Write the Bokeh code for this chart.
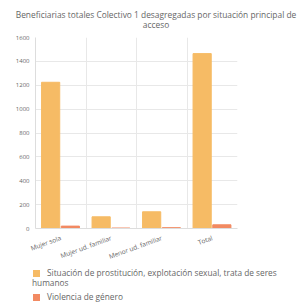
from bokeh.plotting import figure
from bokeh.models import ColumnDataSource, FactorRange, Range1d, FixedTicker, Div
from bokeh.layouts import column
from bokeh.transform import dodge
from bokeh.embed import file_html
from bokeh.resources import INLINE

categories = ["Mujer sola", "Mujer ud. familiar", "Menor ud. familiar", "Total"]
prostitucion = [1225, 98, 140, 1465]
violencia = [20, 4, 7, 31]
series_names = ["Situación de prostitución, explotación sexual, trata de seres humanos",
                "Violencia de género"]
title_lines = ["Beneficiarias totales Colectivo 1 desagregadas por situación principal de",
               "acceso"]
y_ticks = [0, 200, 400, 600, 800, 1000, 1200, 1400, 1600]

C1 = "#f6bb65"
C2 = "#f28a62"
TXT = "#666666"
FONT = "Open Sans"
W = 298

# title
head = Div(text="<br>".join(title_lines), width=W, height=30, margin=0,
           styles={"font-family": FONT, "font-size": "8.4px", "color": TXT,
                   "text-align": "center", "line-height": "10.5px",
                   "padding-top": "9.5px", "padding-left": "14px",
                   "box-sizing": "border-box", "white-space": "nowrap"})

# main chart
src = ColumnDataSource(dict(cat=categories, a=prostitucion, b=violencia))
p = figure(x_range=FactorRange(*categories, range_padding=0), y_range=Range1d(0, 1600),
           width=W, height=238, output_backend="svg", toolbar_location=None,
           min_border_left=35, min_border_right=61, min_border_top=7, min_border_bottom=40,
           margin=0)
p.outline_line_color = None

p.vbar(x=dodge("cat", -0.2, range=p.x_range), top="a", width=0.36, source=src, color=C1)
p.vbar(x=dodge("cat", 0.19, range=p.x_range), top="b", width=0.36, source=src, color=C2)

p.yaxis.ticker = FixedTicker(ticks=y_ticks)
p.xgrid.ticker = FixedTicker(ticks=list(range(len(categories) + 1)))
for g in (p.xgrid, p.ygrid):
    g.grid_line_color = "#e8e8e8"
    g.grid_line_width = 1

for ax in (p.xaxis, p.yaxis):
    ax.axis_line_color = "#dddddd"
    ax.major_tick_line_color = None
    ax.minor_tick_line_color = None
    ax.major_tick_out = 0
    ax.major_tick_in = 0
    ax.minor_tick_out = 0
    ax.major_label_text_font = FONT
    ax.major_label_text_color = TXT
p.xaxis.major_label_text_font_size = "6.5px"
p.yaxis.major_label_text_font_size = "6px"
p.xaxis.major_label_orientation = 0.35
p.xaxis.major_label_standoff = 9
p.yaxis.major_label_standoff = 6

# legend
sq = ("display:inline-block;width:7px;height:7px;background:{c};"
      "margin-left:1px;margin-right:7px;vertical-align:-0.5px")
items = "".join(
    f'<div style="margin-bottom:5px"><span style="{sq.format(c=c)}"></span>{n}</div>'
    for c, n in zip([C1, C2], series_names))
leg = Div(text=items, width=W, height=35, margin=0,
          styles={"font-family": FONT, "font-size": "8.3px", "color": TXT,
                  "line-height": "9.5px", "padding-top": "0px", "padding-left": "32px",
                  "padding-right": "14px", "box-sizing": "border-box"})

page = column(head, p, leg, spacing=0)
open("out.html", "w").write(file_html(page, INLINE))
